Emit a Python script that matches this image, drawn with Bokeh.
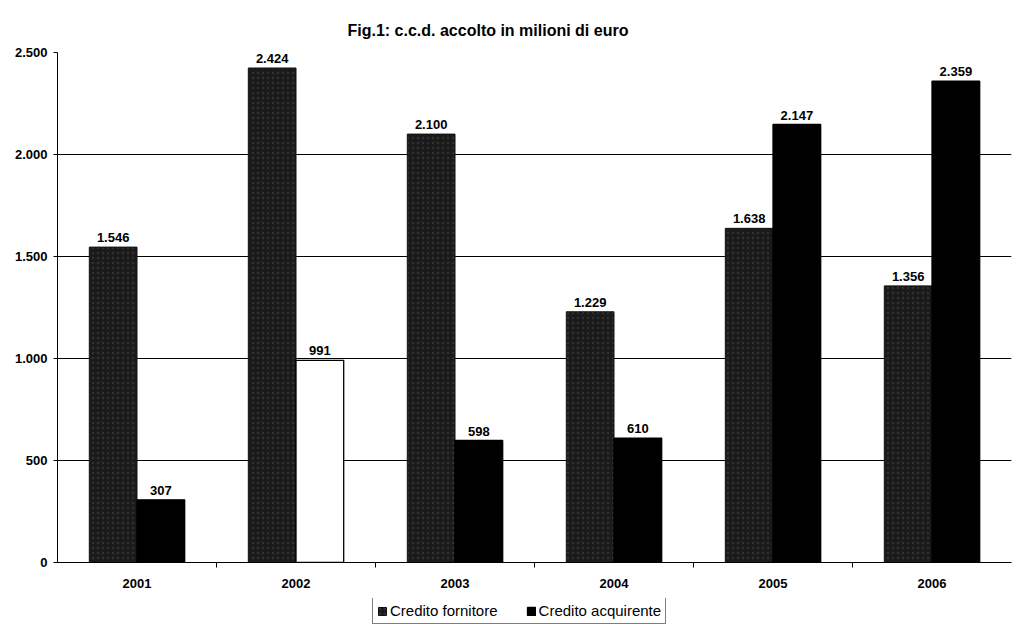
from bokeh.plotting import figure
from bokeh.layouts import column
from bokeh.models import (ColumnDataSource, FixedTicker, Legend, LegendItem, Range1d)
from bokeh.core.properties import value
from bokeh.embed import file_html
from bokeh.resources import INLINE

# c.c.d. accolto, milioni di euro
years = ["2001", "2002", "2003", "2004", "2005", "2006"]
credito_fornitore = [1546, 2424, 2100, 1229, 1638, 1356]
credito_acquirente = [307, 991, 598, 610, 2147, 2359]
y_ticks = [0, 500, 1000, 1500, 2000, 2500]

FONT_NAME = "Liberation Sans"
FONT = value(FONT_NAME)

FORNITORE_STYLE = dict(fill_color="#1a1a1a", line_color="#111111", line_width=1,
                       hatch_pattern="dot", hatch_color="#8c8c8c", hatch_alpha=0.2,
                       hatch_scale=5, hatch_weight=1)
ACQUIRENTE_LINE = dict(line_color="black", line_width=1.3)


def it_num(v):
    """Italian thousands separator: 2424 -> 2.424"""
    return f"{v:,}".replace(",", ".")


centers = [i + 0.5 for i in range(len(years))]
boundaries = [i for i in range(1, len(years))]
bar_w = 0.3

src_f = ColumnDataSource(dict(
    x=[c - bar_w / 2 for c in centers],
    top=credito_fornitore,
    label=[it_num(v) for v in credito_fornitore],
))
# the 2002 "acquirente" bar is drawn as an open (white) box
src_a = ColumnDataSource(dict(
    x=[c + bar_w / 2 for c in centers],
    top=credito_acquirente,
    label=[it_num(v) for v in credito_acquirente],
    fill=["white" if y == "2002" else "black" for y in years],
))

p = figure(frame_width=954, frame_height=510,
           x_range=Range1d(0, len(years)), y_range=Range1d(0, 2500),
           output_backend="svg", toolbar_location=None,
           min_border_left=57, min_border_right=2,
           min_border_top=52, min_border_bottom=36,
           title="Fig.1: c.c.d. accolto in milioni di euro")

p.outline_line_color = None
p.background_fill_color = "white"
p.border_fill_color = "white"

p.title.align = "left"
p.title.offset = 290
p.title.vertical_align = "top"
p.title.text_font = FONT_NAME
p.title.text_font_size = "16px"
p.title.text_font_style = "bold"
p.title.text_color = "black"
p.title.standoff = 24

p.vbar(x="x", top="top", width=bar_w, bottom=0, source=src_f, **FORNITORE_STYLE)
p.vbar(x="x", top="top", width=bar_w, bottom=0, source=src_a,
       fill_color="fill", **ACQUIRENTE_LINE)

for src in (src_f, src_a):
    p.text(x="x", y="top", text="label", source=src,
           text_align="center", text_baseline="bottom", y_offset=-5,
           text_font=FONT, text_font_size="13px", text_font_style="bold",
           text_color="black")

# grid
p.xgrid.grid_line_color = None
p.ygrid.grid_line_color = "black"
p.ygrid.grid_line_width = 1
p.ygrid.ticker = FixedTicker(ticks=y_ticks)

# y axis
ya = p.yaxis[0]
ya.ticker = FixedTicker(ticks=y_ticks)
ya.major_label_overrides = {t: it_num(t) for t in y_ticks}
ya.axis_line_color = "black"
ya.major_tick_line_color = "black"
ya.major_tick_out = 4
ya.major_tick_in = 0
ya.minor_tick_line_color = None
ya.major_label_text_font = FONT_NAME
ya.major_label_text_font_size = "13px"
ya.major_label_text_font_style = "bold"
ya.major_label_text_color = "black"
ya.major_label_standoff = 6

# x axis: labels at category centres, ticks between categories
xa = p.xaxis[0]
xa.ticker = FixedTicker(ticks=centers, minor_ticks=boundaries)
xa.major_label_overrides = {c: y for c, y in zip(centers, years)}
xa.axis_line_color = "black"
xa.major_tick_line_color = None
xa.minor_tick_line_color = "black"
xa.minor_tick_out = 5
xa.minor_tick_in = 0
xa.major_label_text_font = FONT_NAME
xa.major_label_text_font_size = "13px"
xa.major_label_text_font_style = "bold"
xa.major_label_text_color = "black"
xa.major_label_standoff = 10

# legend strip under the chart: its own small canvas with swatch renderers
leg = figure(width=1013, height=28, x_range=Range1d(0, 1), y_range=Range1d(0, 1),
             output_backend="svg", toolbar_location=None,
             x_axis_location=None, y_axis_location=None,
             min_border=0, outline_line_color=None)
leg.grid.visible = False
nan = float("nan")
sw_f = leg.vbar(x="x", top="top", width=0.1,
                source=ColumnDataSource(dict(x=[nan], top=[nan])), **FORNITORE_STYLE)
sw_a = leg.vbar(x="x", top="top", width=0.1,
                source=ColumnDataSource(dict(x=[nan], top=[nan])),
                fill_color="black", **ACQUIRENTE_LINE)

legend = Legend(items=[
    LegendItem(label="Credito fornitore", renderers=[sw_f]),
    LegendItem(label="Credito acquirente", renderers=[sw_a]),
], orientation="horizontal", location=(315, 2))
legend.border_line_color = "black"
legend.border_line_width = 1
legend.background_fill_color = "white"
legend.label_text_font = FONT_NAME
legend.label_text_font_size = "15px"
legend.label_text_color = "black"
legend.glyph_width = 10
legend.glyph_height = 10
legend.label_standoff = 3
legend.spacing = 28
legend.padding = 4
legend.margin = 0
legend.label_height = 14
leg.add_layout(legend, "center")

page = column(p, leg, spacing=0)
open("out.html", "w").write(file_html(page, INLINE))
